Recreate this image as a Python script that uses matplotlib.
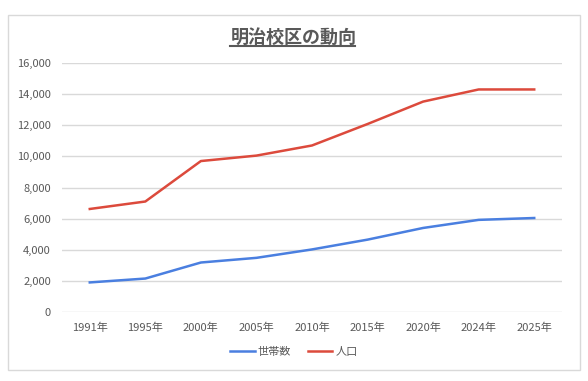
import matplotlib.pyplot as plt
from matplotlib.patches import Rectangle
from matplotlib.ticker import FuncFormatter

plt.rcParams['font.family'] = ['Noto Sans CJK JP', 'DejaVu Sans']

years = ['1991年', '1995年', '2000年', '2005年', '2010年', '2015年', '2020年', '2024年', '2025年']
households = [1900, 2150, 3180, 3480, 4020, 4650, 5400, 5920, 6040]
population = [6620, 7100, 9700, 10050, 10700, 12080, 13520, 14300, 14300]

fig = plt.figure(figsize=(5.88, 3.81), dpi=100)
fig.patches.append(Rectangle((8 / 588, 1 - 370 / 381), 572 / 588, 355 / 381,
                             transform=fig.transFigure, fill=False,
                             edgecolor='#d9d9d9', linewidth=1))

ax = fig.add_axes([62 / 588, 1 - 312 / 381, 500 / 588, 249 / 381])
x = range(len(years))
ax.plot(x, households, color='#4a7fe0', linewidth=1.8, label='世帯数')
ax.plot(x, population, color='#dc4a3c', linewidth=1.8, label='人口')

ax.set_xlim(-0.5, len(years) - 0.5)
ax.set_ylim(0, 16000)
ax.set_yticks(range(0, 16001, 2000))
ax.yaxis.set_major_formatter(FuncFormatter(lambda v, p: f'{int(v):,}'))
ax.set_xticks(list(x))
ax.set_xticklabels(years)
ax.grid(axis='y', color='#d9d9d9', linewidth=1)
ax.set_axisbelow(True)
for s in ax.spines.values():
    s.set_visible(False)
ax.tick_params(length=0, labelsize=8, labelcolor='#595959', pad=8)

fig.text(0.5, 1 - 37 / 381, '明治校区の動向', ha='center', va='center',
         fontsize=13, color='#595959', fontweight='bold')
fig.add_artist(plt.Line2D([230 / 588, 355 / 588], [1 - 46 / 381, 1 - 46 / 381],
                          color='#595959', linewidth=1.5, transform=fig.transFigure))

fig.legend(loc='center', bbox_to_anchor=(0.5, 1 - 352 / 381), ncol=2, frameon=False,
           fontsize=8, labelcolor='#595959', handlelength=2.2, columnspacing=1.5,
           handletextpad=0.3)

fig.savefig('out.png', dpi=100)
